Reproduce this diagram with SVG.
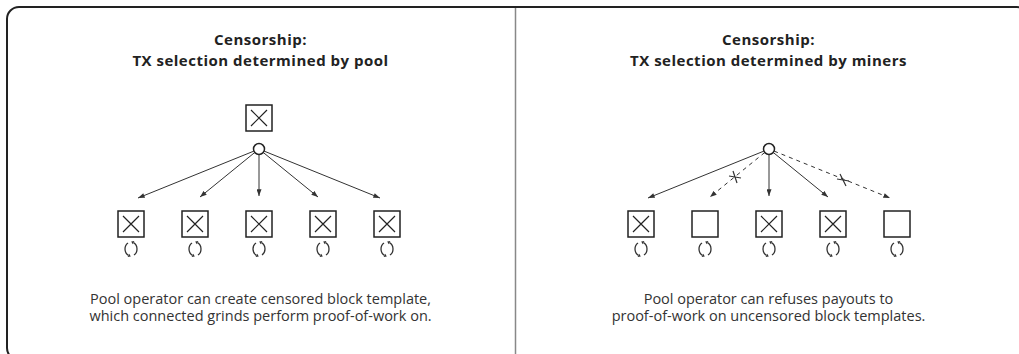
<svg xmlns="http://www.w3.org/2000/svg" width="1019" height="354" viewBox="0 0 1019 354">
<style>
.title{font-family:"Open Sans","Noto Sans",sans-serif;font-weight:700;font-size:15px;letter-spacing:0.5px;fill:#222;text-anchor:middle}
.body{font-family:"Open Sans","Noto Sans",sans-serif;font-size:14.5px;fill:#333;text-anchor:middle}
.box{fill:#fff;stroke:#222;stroke-width:1.5}
.x{stroke:#222;stroke-width:1.2}
.hub{fill:#fff;stroke:#222;stroke-width:1.5}
.conn{fill:none;stroke:#333;stroke-width:1}
.dash{stroke-dasharray:4 4}
.mark{stroke:#333;stroke-width:1.2}
</style>
<defs>
<marker id="ah" viewBox="0 0 8 6" refX="8" refY="3" markerWidth="7" markerHeight="5" markerUnits="userSpaceOnUse" orient="auto">
<path d="M0 0 L8 3 L0 6 Z" fill="#333"/>
</marker>
<g id="cyc">
<path d="M-3 -6.06 A6 7 0 0 0 -2.54 6.34 M3 6.06 A6 7 0 0 0 2.54 -6.34" fill="none" stroke="#333" stroke-width="1.3"/>
<polygon points="-0.2,7.6 -3.4,7.9 -1.7,4.8" fill="#333"/>
<polygon points="0.2,-7.6 3.4,-7.9 1.7,-4.8" fill="#333"/>
</g>
<g id="xbox">
<rect class="box" x="-13" y="0" width="26" height="26"/>
<path class="x" d="M-8 5 L8 21 M8 5 L-8 21"/>
</g>
<g id="ebox">
<rect class="box" x="-13" y="0" width="26" height="26"/>
</g>
</defs>
<rect width="1019" height="354" fill="#fff"/>
<rect x="7" y="7" width="1022" height="353" rx="12" fill="#fff" stroke="#222" stroke-width="2"/>
<line x1="515.5" y1="8" x2="515.5" y2="354" stroke="#888" stroke-width="1.5"/>

<text class="title"><tspan x="260.5" y="45">Censorship:</tspan><tspan x="260.5" y="66">TX selection determined by pool</tspan></text>
<text class="title"><tspan x="768.5" y="45">Censorship:</tspan><tspan x="768.5" y="66">TX selection determined by miners</tspan></text>

<g id="connectors">
<path class="conn" marker-end="url(#ah)" d="M253.9 151.1 L138 198"/>
<path class="conn" marker-end="url(#ah)" d="M254.7 152.5 L200 197"/>
<path class="conn" marker-end="url(#ah)" d="M259 154.5 L259 196"/>
<path class="conn" marker-end="url(#ah)" d="M263.3 152.5 L318 197"/>
<path class="conn" marker-end="url(#ah)" d="M264.1 151.1 L380 198"/>
<path class="conn" marker-end="url(#ah)" d="M763.9 151.1 L648 198"/>
<path class="conn dash" marker-end="url(#ah)" d="M764.7 152.5 L710 197"/>
<path class="conn" marker-end="url(#ah)" d="M769 154.5 L769 196"/>
<path class="conn" marker-end="url(#ah)" d="M773.3 152.5 L828 197"/>
<path class="conn dash" marker-end="url(#ah)" d="M774.1 151.1 L890 198"/>
<path class="mark" d="M729 176 L741 178 M733 171 L737 183"/>
<path class="mark" d="M837 179 L849 181 M840 174 L846 186"/>
</g>

<g id="pool-template"><use href="#xbox" x="259" y="105"/></g>
<g id="pool-hub"><circle class="hub" cx="259" cy="149" r="5.5"/></g>
<g id="pool-miner-1"><use href="#xbox" x="131" y="211"/><use href="#cyc" x="131" y="249"/></g>
<g id="pool-miner-2"><use href="#xbox" x="195" y="211"/><use href="#cyc" x="195" y="249"/></g>
<g id="pool-miner-3"><use href="#xbox" x="259" y="211"/><use href="#cyc" x="259" y="249"/></g>
<g id="pool-miner-4"><use href="#xbox" x="323" y="211"/><use href="#cyc" x="323" y="249"/></g>
<g id="pool-miner-5"><use href="#xbox" x="387" y="211"/><use href="#cyc" x="387" y="249"/></g>

<g id="miners-hub"><circle class="hub" cx="769" cy="149" r="5.5"/></g>
<g id="miners-miner-1"><use href="#xbox" x="641" y="211"/><use href="#cyc" x="641" y="249"/></g>
<g id="miners-miner-2"><use href="#ebox" x="705" y="211"/><use href="#cyc" x="705" y="249"/></g>
<g id="miners-miner-3"><use href="#xbox" x="769" y="211"/><use href="#cyc" x="769" y="249"/></g>
<g id="miners-miner-4"><use href="#xbox" x="833" y="211"/><use href="#cyc" x="833" y="249"/></g>
<g id="miners-miner-5"><use href="#ebox" x="897" y="211"/><use href="#cyc" x="897" y="249"/></g>

<text class="body"><tspan x="260.5" y="304">Pool operator can create censored block template,</tspan><tspan x="260.5" y="321">which connected grinds perform proof-of-work on.</tspan></text>
<text class="body"><tspan x="768.5" y="304">Pool operator can refuses payouts to</tspan><tspan x="768.5" y="321">proof-of-work on uncensored block templates.</tspan></text>
</svg>
